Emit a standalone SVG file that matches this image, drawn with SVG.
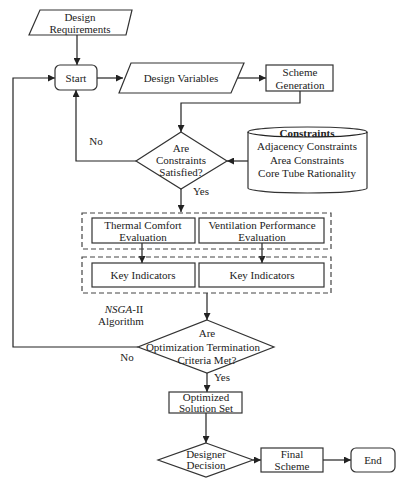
<svg xmlns="http://www.w3.org/2000/svg" width="408" height="480" viewBox="0 0 408 480" font-family="'Liberation Serif', 'Times New Roman', serif">
<defs>
<marker id="ah" viewBox="0 0 8 8" refX="8" refY="4" markerWidth="7" markerHeight="7" markerUnits="userSpaceOnUse" orient="auto">
<path d="M0,0 L8,4 L0,8 z" fill="#222"/>
</marker>
<style>
.s{fill:#fff;stroke:#333;stroke-width:1.2}
.d{fill:none;stroke:#444;stroke-width:1.2;stroke-dasharray:5,3}
.c{fill:none;stroke:#222;stroke-width:1.2}
.a{fill:none;stroke:#222;stroke-width:1.2;marker-end:url(#ah)}
text{font-family:"Liberation Serif","Times New Roman",serif;font-size:11px;fill:#222;text-anchor:middle}
.b{font-weight:bold}
</style>
</defs>
<rect width="408" height="480" fill="#fff"/>
<g id="connectors">
<path class="a" d="M77,35 V65"/>
<path class="a" d="M97,78 H123"/>
<path class="a" d="M237,78 H266"/>
<path class="a" d="M300,91 V103 H181 V132"/>
<path class="a" d="M136,161 H76 V90"/>
<path class="a" d="M248,161 H227"/>
<path class="a" d="M181,189 V212"/>
<path class="a" d="M142,243 V263"/>
<path class="a" d="M262,243 V263"/>
<path class="a" d="M207,293 V320"/>
<path class="a" d="M138,347 H13 V78 H55"/>
<path class="a" d="M207,373 V392"/>
<path class="a" d="M206,413 V443"/>
<path class="a" d="M253,460 H261"/>
<path class="a" d="M323,460 H351"/>
<text x="96" y="145">No</text>
<text x="201" y="195">Yes</text>
<text x="127" y="361">No</text>
<text x="222" y="381">Yes</text>
</g>
<g id="design-requirements">
<polygon class="s" points="40,10 132,10 126,35 29,35"/>
<text x="80" y="21">Design</text>
<text x="80" y="33">Requirements</text>
</g>
<g id="start">
<rect class="s" x="55" y="65" width="42" height="25" rx="5"/>
<text x="76" y="82">Start</text>
</g>
<g id="design-variables">
<polygon class="s" points="131,63 244,63 231,93 119,93"/>
<text x="181" y="82">Design Variables</text>
</g>
<g id="scheme-generation">
<rect class="s" x="266" y="65" width="67" height="26"/>
<text x="300" y="76">Scheme</text>
<text x="300" y="88.5">Generation</text>
</g>
<g id="constraints-check">
<polygon class="s" points="181,132 227,161 181,189 136,161"/>
<text x="181" y="152">Are</text>
<text x="181" y="164">Constraints</text>
<text x="181" y="176">Satisfied?</text>
</g>
<g id="constraints">
<path class="s" d="M248,132 V188 A59.5,5 0 0 0 367,188 V132 A59.5,5 0 0 0 248,132 Z"/>
<path class="c" d="M248,132 A59.5,5 0 0 0 367,132"/>
<text class="b" x="307" y="137">Constraints</text>
<text x="307" y="150">Adjacency Constraints</text>
<text x="307" y="164">Area Constraints</text>
<text x="307" y="177">Core Tube Rationality</text>
</g>
<g id="evaluation-group">
<rect class="d" x="82" y="213" width="249" height="36"/>
</g>
<g id="thermal-comfort">
<rect class="s" x="92" y="218" width="103" height="25"/>
<text x="143" y="228.5">Thermal Comfort</text>
<text x="143" y="240.5">Evaluation</text>
</g>
<g id="ventilation">
<rect class="s" x="199" y="218" width="125" height="25"/>
<text x="262" y="228.5">Ventilation Performance</text>
<text x="262" y="240.5">Evaluation</text>
</g>
<g id="indicators-group">
<rect class="d" x="82" y="257" width="249" height="36"/>
</g>
<g id="key-indicators-1">
<rect class="s" x="92" y="263" width="103" height="24"/>
<text x="143" y="279">Key Indicators</text>
</g>
<g id="key-indicators-2">
<rect class="s" x="199" y="263" width="125" height="24"/>
<text x="262" y="279">Key Indicators</text>
</g>
<g id="nsga-label">
<text x="124" y="313"><tspan font-style="italic">NSGA</tspan>-II</text>
<text x="121" y="325">Algorithm</text>
</g>
<g id="termination-check">
<polygon class="s" points="207,320 274,347 207,373 138,347"/>
<text x="207" y="337">Are</text>
<text x="203" y="351">Optimization Termination</text>
<text x="207" y="364">Criteria Met?</text>
</g>
<g id="optimized-set">
<rect class="s" x="169" y="392" width="73" height="21"/>
<text x="206" y="401">Optimized</text>
<text x="206" y="411.5">Solution Set</text>
</g>
<g id="designer-decision">
<polygon class="s" points="206,443 253,460 206,477 158,460"/>
<text x="206" y="458">Designer</text>
<text x="206" y="469">Decision</text>
</g>
<g id="final-scheme">
<rect class="s" x="261" y="448" width="62" height="24"/>
<text x="292" y="458">Final</text>
<text x="292" y="469.5">Scheme</text>
</g>
<g id="end">
<rect class="s" x="351" y="448" width="44" height="24" rx="5"/>
<text x="373" y="464">End</text>
</g>
</svg>
